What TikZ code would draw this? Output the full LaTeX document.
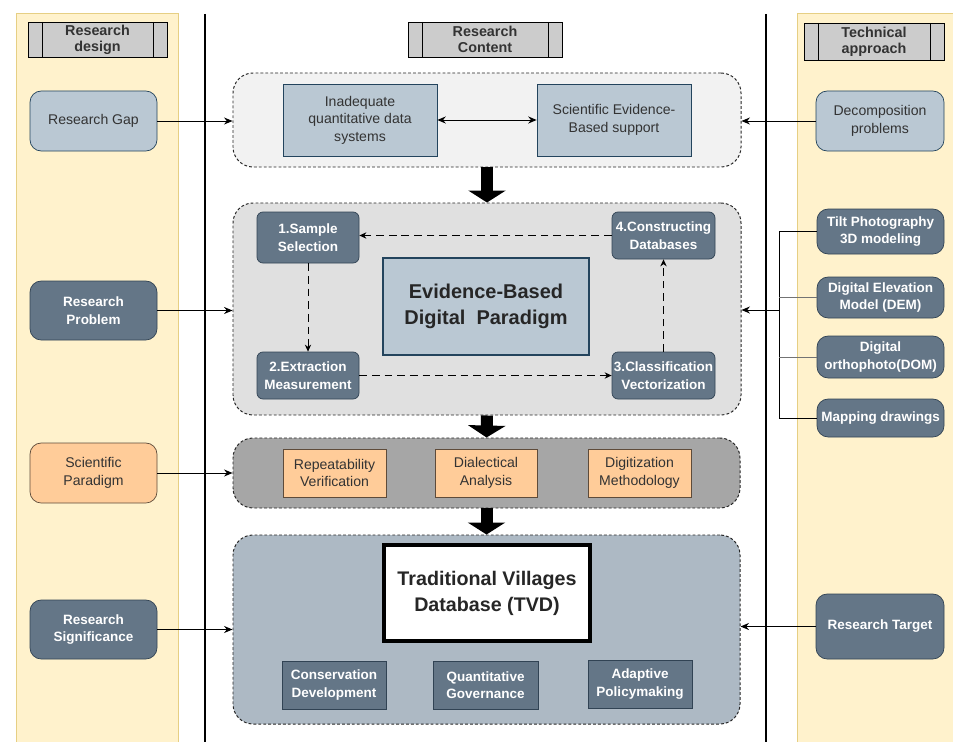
\documentclass[tikz,border=0pt]{standalone}
\usepackage{fontspec}
\setmainfont{Liberation Sans}
\usetikzlibrary{arrows.meta}

\definecolor{colyellow}{HTML}{FFF2CC}
\definecolor{colyellowline}{HTML}{E6CF84}
\definecolor{colhead}{HTML}{CCCCCC}
\definecolor{collight}{HTML}{BAC8D3}
\definecolor{collightline}{HTML}{23445D}
\definecolor{coldark}{HTML}{647687}
\definecolor{coldarkline}{HTML}{314354}
\definecolor{colorange}{HTML}{FFCC99}
\definecolor{colorangeline}{HTML}{5E4B3A}
\definecolor{colcontA}{HTML}{F2F2F2}
\definecolor{colcontB}{HTML}{E0E0E0}
\definecolor{colcontC}{HTML}{A6A6A6}
\definecolor{colcontD}{HTML}{ADB9C4}
\definecolor{coltext}{HTML}{333333}

\begin{document}
\begin{tikzpicture}[x=0.025cm, y=-0.025cm, align=center, inner sep=0pt,
  sz/.style 2 args={minimum width=#1*0.025cm, minimum height=#2*0.025cm},
  regular/.style={font=\fontsize{10}{12.4}\selectfont, text=coltext},
  heavy/.style={font=\fontsize{9.6}{12.4}\selectfont\bfseries, text=white},
  column/.style={fill=colyellow, draw=colyellowline, line width=0.6pt},
  header/.style={draw=black, fill=colhead, line width=0.7pt,
    font=\fontsize{10.2}{11.6}\selectfont\bfseries, text=coltext,
    path picture={
      \draw[line width=0.7pt] ([xshift=0.35cm]path picture bounding box.north west) -- ([xshift=0.35cm]path picture bounding box.south west);
      \draw[line width=0.7pt] ([xshift=-0.35cm]path picture bounding box.north east) -- ([xshift=-0.35cm]path picture bounding box.south east);
    }},
  lightbox/.style={draw=collightline, fill=collight, regular, line width=0.5pt},
  darkbox/.style={draw=coldarkline, fill=coldark, heavy, line width=0.5pt},
  orangebox/.style={draw=colorangeline, fill=colorange, regular, line width=0.5pt},
  side/.style={rounded corners=0.28cm},
  cont/.style={draw=black!85, line width=0.7pt, dash pattern=on 2pt off 1.5pt, rounded corners=0.5cm},
  link/.style={draw=black, line width=0.7pt, -{Stealth[length=6pt, width=5pt]}},
  linkboth/.style={draw=black, line width=0.7pt, {Stealth[length=6pt, width=5pt]}-{Stealth[length=6pt, width=5pt]}},
  step link/.style={draw=black, line width=0.7pt, dash pattern=on 5.5pt off 3.5pt, -{Stealth[length=5pt, width=4.5pt]}},
  bigarrow/.style={draw=black, line width=0.3cm, -{Triangle[length=0.3cm, width=0.925cm]}}]

\useasboundingbox (0,0) rectangle (953,742);

\draw[column] (16,13) rectangle (178,760);
\draw[column] (797,13) rectangle (970,760);

\draw[line width=0.8pt] (205,14) -- (205,760);
\draw[line width=0.8pt] (766,14) -- (766,760);

\node[header, sz={139}{35}] (hdesign) at (97.5,39.5) {Research\\design};
\node[header, sz={154}{35}] (hcontent) at (485,39.5) {Research\\Content};
\node[header, sz={140}{37}] (happroach) at (874,41.5) {Technical\\approach};

\node[lightbox, side, sz={127}{60}] (gap) at (93.5,121) {Research Gap};
\node[darkbox, side, sz={127}{59}] (problem) at (93.5,310.5) {Research\\Problem};
\node[orangebox, side, sz={127}{60}] (paradigm) at (93.5,473) {Scientific\\Paradigm};
\node[darkbox, side, sz={127}{59}] (significance) at (93.5,629.5) {Research\\Significance};

\node[lightbox, side, sz={128}{60}] (decomp) at (880,121) {Decomposition\\problems};
\node[darkbox, side, sz={127}{45}] (tilt) at (880.5,231.5) {Tilt Photography\\3D modeling};
\node[darkbox, side, sz={127}{41}] (dem) at (880.5,297.5) {Digital Elevation\\Model (DEM)};
\node[darkbox, side, sz={127}{42}] (dom) at (880.5,357) {Digital\\orthophoto(DOM)};
\node[darkbox, side, sz={127}{38}] (mapping) at (880.5,418) {Mapping drawings};
\node[darkbox, side, sz={128}{65}] (target) at (880,626.5) {Research Target};

\node[cont, fill=colcontA, sz={508}{94}] (gaps) at (487,120) {};
\node[cont, fill=colcontB, sz={508}{212}] (method) at (487,309) {};
\node[cont, fill=colcontC, sz={507}{70}] (science) at (486.5,473) {};
\node[cont, fill=colcontD, sz={507}{189}] (database) at (486.5,629.5) {};

\node[lightbox, sz={154}{72}] (inadequate) at (360,120) {Inadequate\\quantitative data\\systems};
\node[lightbox, sz={154}{72}] (evidence) at (614,120) {Scientific Evidence-\\Based support};

\node[darkbox, rounded corners=0.15cm, sz={102}{51}] (sample) at (308,237.5) {1.Sample\\Selection};
\node[darkbox, rounded corners=0.15cm, sz={102}{47}] (extract) at (308,375.5) {2.Extraction\\Measurement};
\node[darkbox, rounded corners=0.15cm, sz={103}{47}] (classify) at (663.5,375.5) {3.Classification\\Vectorization};
\node[darkbox, rounded corners=0.15cm, sz={103}{47}] (construct) at (663.5,235.5) {4.Constructing\\Databases};
\node[draw=collightline, fill=collight, line width=2pt, sz={206}{97},
  font=\fontsize{14.2}{18.4}\selectfont\bfseries, text=black!85] (core) at (486,306.5) {Evidence-Based\\Digital~ Paradigm};

\node[orangebox, sz={103}{48}] (repeat) at (334.5,473) {Repeatability\\Verification};
\node[orangebox, sz={102}{48}] (dialect) at (486,473) {Dialectical\\Analysis};
\node[orangebox, sz={103}{48}] (digitize) at (639.5,473) {Digitization\\Methodology};

\node[draw=black, fill=white, line width=2.2pt, sz={206}{96},
  font=\fontsize{14}{18.4}\selectfont\bfseries, text=black!85] (tvd) at (487,593) {Traditional Villages\\Database (TVD)};
\node[darkbox, sz={104}{48}] (conserve) at (334,685) {Conservation\\Development};
\node[darkbox, sz={105}{48}] (govern) at (485.5,685) {Quantitative\\Governance};
\node[darkbox, sz={104}{48}] (adapt) at (640,684) {Adaptive\\Policymaking};

\coordinate (bus) at (779,310);

\draw[link] (gap.east) -- (gap.east -| gaps.west);
\draw[link] (decomp.west) -- (decomp.west -| gaps.east);
\draw[linkboth] (inadequate.east) -- (evidence.west);
\draw[link] (problem.east) -- (problem.east -| method.west);
\draw[link] (paradigm.east) -- (paradigm.east -| science.west);
\draw[link] (significance.east) -- (significance.east -| database.west);
\draw[link] (target.west) -- (target.west -| database.east);

\draw[line width=0.7pt] (tilt.west) -| (bus);
\draw[line width=0.7pt] (mapping.west) -| (bus);
\draw[line width=0.7pt, draw=black!55] (dem.west) -- (dem.west -| bus);
\draw[line width=0.7pt, draw=black!55] (dom.west) -- (dom.west -| bus);
\draw[link] (bus) -- (bus -| method.east);

\draw[step link] (construct.west) -- (construct.west -| sample.east);
\draw[step link] (sample.south) -- (extract.north);
\draw[step link] (extract.east) -- (classify.west);
\draw[step link] (classify.north) -- (construct.south);

\draw[bigarrow] (gaps.south) -- (method.north);
\draw[bigarrow] (method.south) -- (science.north);
\draw[bigarrow] (science.south) -- (database.north);

\end{tikzpicture}
\end{document}
